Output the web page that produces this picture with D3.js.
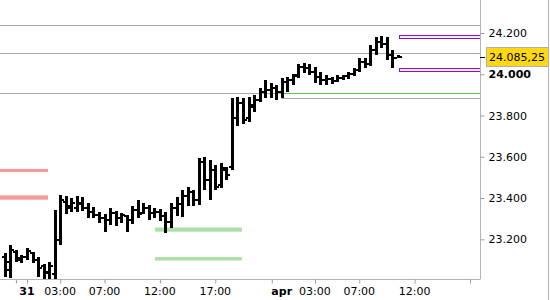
<!DOCTYPE html>
<html>
<head>
<meta charset="utf-8">
<script src="https://cdn.jsdelivr.net/npm/d3@7.9.0/dist/d3.min.js"></script>
<style>
  body { margin: 0; background: #fff; }
  svg { display: block; font-family: "DejaVu Sans", Verdana, sans-serif; font-size: 11px; }
</style>
</head>
<body>
<svg id="chart" width="550" height="300"></svg>
<script>
// 30-minute bars, slot index counts bars (slot 0 = 31 mar 00:00)
const firstSlot = -4;
const opens  = [23114,23051,23138,23100,23114,23133,23100,23070,23036,23032,23196,23381,23361,23352,23376,23352,23332,23318,23303,23293,23327,23303,23313,23293,23342,23327,23352,23327,23332,23313,23284,23352,23371,23410,23429,23390,23575,23487,23536,23463,23536,23550,23788,23861,23788,23841,23875,23914,23924,23933,23914,23963,23972,23996,24035,24030,24011,23987,23972,23977,23967,23982,23992,24001,24021,24059,24050,24118,24156,24147,24093,24080];
const highs  = [23133,23172,23148,23124,23158,23138,23114,23080,23090,23342,23415,23410,23400,23410,23405,23376,23356,23332,23322,23352,23337,23327,23318,23361,23390,23376,23366,23352,23347,23332,23376,23405,23439,23453,23439,23594,23599,23584,23560,23570,23550,23885,23890,23885,23890,23899,23933,23972,23958,23948,23982,23987,24001,24050,24055,24050,24035,24011,23996,23987,23996,23996,24011,24030,24079,24079,24142,24181,24186,24181,24118,24093];
const lows   = [23017,23012,23090,23085,23100,23085,23017,23003,23003,23003,23172,23322,23332,23332,23337,23303,23303,23279,23235,23269,23264,23279,23235,23274,23303,23322,23293,23303,23289,23230,23255,23313,23308,23361,23361,23366,23439,23390,23439,23449,23487,23536,23749,23759,23769,23817,23866,23885,23885,23875,23885,23914,23948,23982,24006,23996,23958,23948,23948,23953,23963,23972,23977,23992,24011,24030,24040,24093,24127,24069,24030,24079];
const closes = [23090,23148,23109,23114,23143,23100,23061,23041,23070,23196,23390,23352,23376,23371,23352,23332,23318,23303,23293,23327,23303,23318,23293,23342,23322,23352,23327,23332,23313,23284,23352,23371,23410,23429,23390,23575,23487,23536,23453,23546,23512,23788,23861,23778,23851,23875,23914,23924,23933,23914,23963,23972,23992,24035,24030,24011,23987,23972,23977,23967,23982,23992,24001,24021,24059,24050,24118,24156,24147,24093,24079,24085.25];
const lastPrice = 24085.25;

const yTicks = [23200, 23400, 23600, 23800, 24000, 24200];
const xTickSlots = [-2, 0, 6, 14, 24, 34, 44.2, 52, 60, 70, 80];
const xLabelSlots = [0, 6, 14, 24, 34, 46, 52, 60, 70];
const xLabels = ["31", "03:00", "07:00", "12:00", "17:00", "apr", "03:00", "07:00", "12:00"];
const boldLabels = ["31", "apr"];

// horizontal levels: [price, fromSlot]
const grayLevels = [[24239, -6], [24103, -6], [23909, -6], [23885, 46]];
const greenLevels = [[23909, 46]];
// zones: [low, high, fromSlot, toSlot]
const redZones = [[23526, 23541, -5, 3.8], [23392, 23413, -5, 3.8]];
const greenZones = [[23237, 23257, 23.1, 38.8], [23097, 23114, 23.1, 38.8]];
const purpleZones = [[24173, 24190, 67.1, 82], [24017, 24032, 67.1, 82]];

const W = 550, H = 300, plotR = 480, plotB = 279;
const svg = d3.select("#chart");
const loc = d3.formatLocale({ decimal: ",", thousands: ".", grouping: [3], currency: ["", ""] });
const fmtAxis = loc.format(",.0f");
const fmtPrice = loc.format(",.2f");

const x = d3.scaleLinear().domain([0, 80]).range([27, 470]);
const y = d3.scaleLinear().domain([23200, 24200]).range([239.3, 33]);

const plot = svg.append("g");
plot.append("clipPath").attr("id", "clip")
  .append("rect").attr("x", 0).attr("y", 0).attr("width", plotR).attr("height", plotB);
const g = plot.append("g").attr("clip-path", "url(#clip)");

// level lines
g.selectAll(".gray").data(grayLevels).join("line")
  .attr("x1", d => x(d[1])).attr("x2", plotR)
  .attr("y1", d => Math.round(y(d[0])) + 0.5).attr("y2", d => Math.round(y(d[0])) + 0.5)
  .attr("stroke", "#a8a8a8").attr("stroke-width", 1);
g.selectAll(".green").data(greenLevels).join("line")
  .attr("x1", d => x(d[1])).attr("x2", plotR)
  .attr("y1", d => Math.round(y(d[0])) + 0.5).attr("y2", d => Math.round(y(d[0])) + 0.5)
  .attr("stroke", "#5cc85c").attr("stroke-width", 1);

// zones
g.selectAll(".rz").data(redZones).join("rect")
  .attr("x", d => x(d[2])).attr("width", d => x(d[3]) - x(d[2]))
  .attr("y", d => y(d[1])).attr("height", d => y(d[0]) - y(d[1]))
  .attr("fill", "#f59a9a");
g.selectAll(".gz").data(greenZones).join("rect")
  .attr("x", d => x(d[2])).attr("width", d => x(d[3]) - x(d[2]))
  .attr("y", d => y(d[1])).attr("height", d => y(d[0]) - y(d[1]))
  .attr("fill", "#acdfa6");
g.selectAll(".pz").data(purpleZones).join("rect")
  .attr("x", d => Math.round(x(d[2])) + 0.5).attr("width", d => x(d[3]) - x(d[2]))
  .attr("y", d => Math.round(y(d[1])) + 0.5).attr("height", 3)
  .attr("fill", "#f3ebfb").attr("stroke", "#8c10d0").attr("stroke-width", 1);

// OHLC bars
const bars = opens.map((o, i) => ({ slot: firstSlot + i, o, h: highs[i], l: lows[i], c: closes[i] }));
const bg = g.selectAll(".bar").data(bars).join("g").attr("fill", "#000");
bg.append("rect")
  .attr("x", d => Math.round(x(d.slot)) - 1).attr("width", 3)
  .attr("y", d => Math.round(y(d.h))).attr("height", d => Math.max(2, Math.round(y(d.l)) - Math.round(y(d.h))));
bg.append("rect")
  .attr("x", d => Math.round(x(d.slot)) - 3).attr("width", 2)
  .attr("y", d => Math.round(y(d.o)) - 1).attr("height", 2);
bg.append("rect")
  .attr("x", d => Math.round(x(d.slot)) + 2).attr("width", 2)
  .attr("y", d => Math.round(y(d.c)) - 1).attr("height", 2);

// axes frame
svg.append("line").attr("x1", plotR + 0.5).attr("x2", plotR + 0.5).attr("y1", 0).attr("y2", plotB + 0.5)
  .attr("stroke", "#b4b4b4");
svg.append("line").attr("x1", 0).attr("x2", plotR).attr("y1", plotB + 0.5).attr("y2", plotB + 0.5)
  .attr("stroke", "#b4b4b4");
svg.append("line").attr("x1", W - 1.5).attr("x2", W - 1.5).attr("y1", 0).attr("y2", H)
  .attr("stroke", "#b4b4b4");

// right axis
const yAxis = svg.append("g").attr("transform", `translate(${plotR + 0.5},0)`)
  .call(d3.axisRight(y).tickValues(yTicks).tickSize(4).tickPadding(4).tickFormat(fmtAxis));
yAxis.select(".domain").remove();
yAxis.selectAll(".tick line").attr("stroke", "#9a9a9a");
yAxis.selectAll(".tick text").attr("fill", "#000")
  .style("font-family", "DejaVu Sans, sans-serif").style("font-size", "11px")
  .style("font-weight", d => d === 24000 ? "bold" : "normal");

// bottom axis ticks
const xAxis = svg.append("g").attr("transform", `translate(0,${plotB + 0.5})`)
  .call(d3.axisBottom(x).tickValues(xTickSlots).tickSize(4).tickFormat(""));
xAxis.select(".domain").remove();
xAxis.selectAll(".tick line").attr("stroke", "#9a9a9a");

svg.append("g").selectAll("text").data(xLabelSlots).join("text")
  .attr("x", d => x(d)).attr("y", 295)
  .attr("text-anchor", "middle")
  .attr("fill", "#000")
  .style("font-weight", (d, i) => boldLabels.includes(xLabels[i]) ? "bold" : "normal")
  .text((d, i) => xLabels[i]);

// last price marker
const ly = y(lastPrice);
svg.append("line").attr("x1", plotR).attr("x2", plotR + 5)
  .attr("y1", Math.round(ly) + 0.5).attr("y2", Math.round(ly) + 0.5).attr("stroke", "#000");
svg.append("rect").attr("x", 486.5).attr("y", Math.round(ly) - 9.5).attr("width", 62).attr("height", 19)
  .attr("fill", "#ffd814").attr("stroke", "#b0b0b0");
svg.append("text").attr("x", 489).attr("y", Math.round(ly) + 4).attr("fill", "#000")
  .text(fmtPrice(lastPrice));
</script>
</body>
</html>
